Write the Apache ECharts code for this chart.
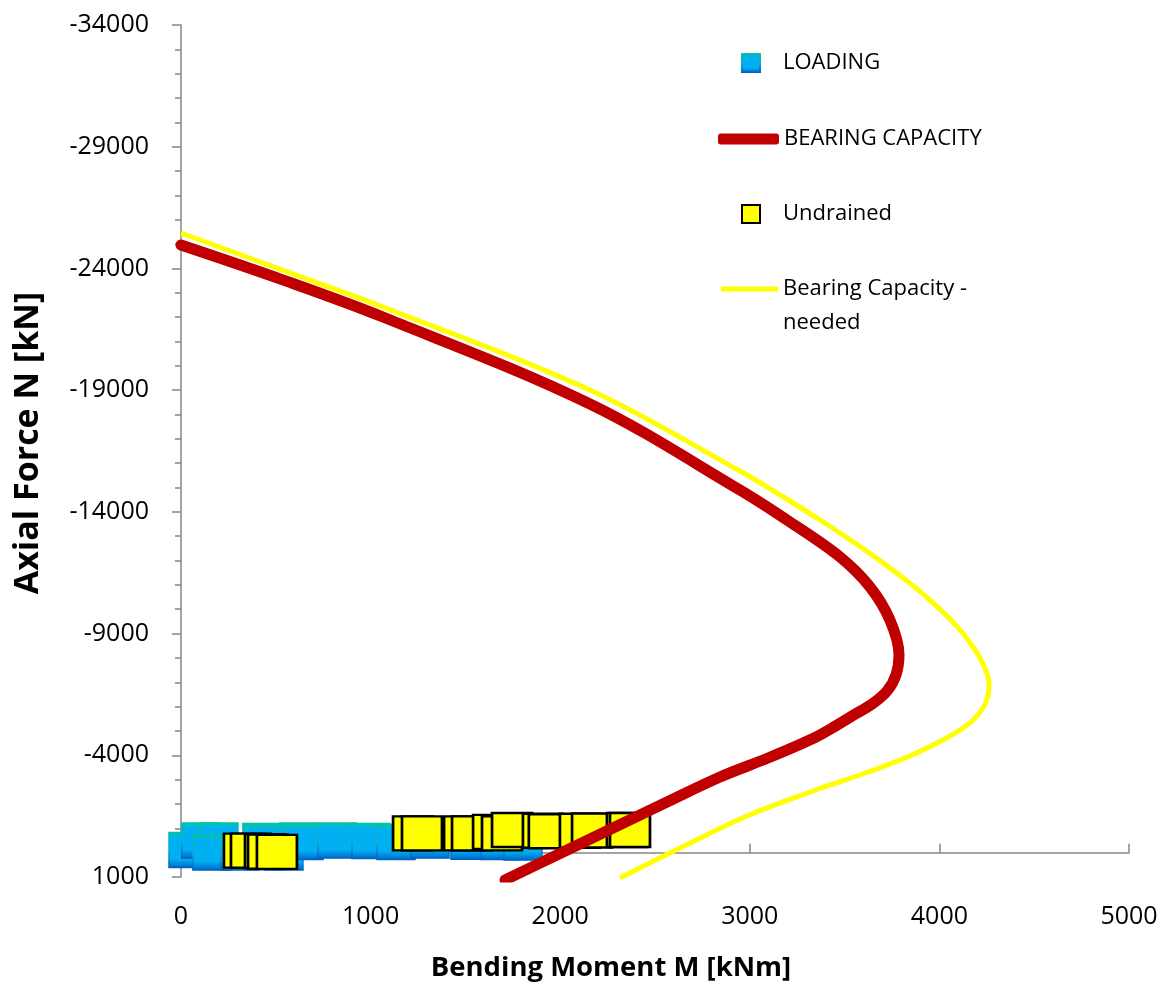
<!DOCTYPE html>
<html>
<head>
<meta charset="utf-8">
<script src="https://cdn.jsdelivr.net/npm/echarts@6/dist/echarts.min.js"></script>
<style>
  html, body { margin: 0; padding: 0; background: #ffffff; }
  #chart { width: 1168px; height: 985px; }
</style>
</head>
<body>
<div id="chart"></div>
<script>
// Interaction diagram: bending moment M [kNm] vs axial force N [kN]

// Axis ranges / ticks
const momentMin = 0, momentMax = 5000, momentStep = 1000;
const forceMin = -34000, forceMax = 1000, forceStep = 5000;

// Load cases (M, N)
const loading = [
  [37, -110], [104, -500], [200, -500], [163, -10], [311, -10],
  [427, -480], [448, -440], [443, -20], [543, -10], [622, -500],
  [649, -440], [823, -500], [1002, -480], [1134, -440], [1313, -500],
  [1524, -450], [1682, -440], [1804, -420]
];

// Bearing capacity envelope (M, N)
const bearingCapacity = [
  [0, -24962], [533, -23540], [1065, -22004], [2157, -18431], [2948, -14898],
  [3212, -13583], [3476, -12145], [3634, -10913], [3739, -9557], [3787, -8120],
  [3771, -7298], [3724, -6641], [3645, -6107], [3539, -5614], [3434, -5121],
  [3328, -4669], [3096, -3888], [2843, -3108], [2558, -2060], [2273, -992],
  [1999, 35], [1709, 1123]
];

// Undrained load cases (M, N)
const undrained = [
  [332, -80], [369, -80], [443, -60], [459, -40], [506, -30],
  [1224, -790], [1271, -790], [1493, -790], [1535, -790], [1646, -850],
  [1693, -790], [1746, -930], [1909, -900], [1940, -880], [2104, -900],
  [2168, -910], [2352, -930], [2368, -930]
];

// Required bearing capacity envelope (M, N)
const bearingCapacityNeeded = [
  [0, -25455], [533, -23935], [1065, -22415], [2157, -19006], [2948, -15678],
  [3212, -14446], [3476, -13131], [3687, -11997], [3845, -11061], [3987, -10120],
  [4093, -9298], [4161, -8629], [4225, -7840], [4262, -6928], [4256, -6435],
  [4230, -5942], [4172, -5408], [4082, -4915], [3966, -4422], [3819, -3888],
  [3581, -3190], [3333, -2533], [2985, -1506], [2632, -191], [2315, 1041]
];

const FONT = '"Open Sans", "Liberation Sans", sans-serif';
const AXIS_GREY = '#878787';

const loadingFill = new echarts.graphic.LinearGradient(0, 0, 0, 1, [
  { offset: 0, color: '#00C8A0' },
  { offset: 0.15, color: '#00B0F0' },
  { offset: 0.75, color: '#00B0F0' },
  { offset: 1, color: '#0064C8' }
]);
const loadingEdge = new echarts.graphic.LinearGradient(0, 0, 0, 1, [
  { offset: 0, color: '#00C49A' },
  { offset: 0.5, color: '#18A6E0' },
  { offset: 1, color: '#005FBF' }
]);

const chart = echarts.init(document.getElementById('chart'), null, { renderer: 'canvas' });

const legendText = { fontFamily: FONT, fontSize: 22, color: '#000' };
const plainNumber = (v) => String(v);

chart.setOption({
  backgroundColor: '#ffffff',
  animation: false,
  grid: { left: 181, right: 39, top: 25, bottom: 108, containLabel: false },
  xAxis: {
    type: 'value',
    min: momentMin, max: momentMax, interval: momentStep,
    axisLine: { show: true, onZero: true, lineStyle: { color: AXIS_GREY, width: 1.5 } },
    axisTick: { show: true, inside: true, length: 9, lineStyle: { color: AXIS_GREY, width: 1.5 } },
    axisLabel: { margin: 27, fontFamily: FONT, fontSize: 25, color: '#000', formatter: plainNumber },
    splitLine: { show: false }
  },
  yAxis: {
    type: 'value',
    inverse: true,
    min: forceMin, max: forceMax, interval: forceStep,
    axisLine: { show: true, onZero: true, lineStyle: { color: AXIS_GREY, width: 1.5 } },
    axisTick: { show: true, length: 9, lineStyle: { color: AXIS_GREY, width: 1.5 } },
    minorTick: { show: true, splitNumber: 5, length: 6, lineStyle: { color: AXIS_GREY, width: 1.5 } },
    axisLabel: { margin: 32, fontFamily: FONT, fontSize: 25, color: '#000', formatter: plainNumber },
    splitLine: { show: false },
    minorSplitLine: { show: false }
  },
  legend: [
    {
      data: [{ name: 'LOADING', icon: 'rect' }],
      left: 741, top: 52, padding: 0, itemWidth: 18, itemHeight: 18,
      selectedMode: false,
      textStyle: Object.assign({ padding: [0, 0, 0, 18] }, legendText)
    },
    {
      data: [{ name: 'BEARING CAPACITY', icon: 'roundRect' }],
      left: 718, top: 128, padding: 0, itemWidth: 61, itemHeight: 11,
      selectedMode: false,
      itemStyle: { borderWidth: 0 },
      textStyle: legendText
    },
    {
      data: [{ name: 'Undrained', icon: 'rect' }],
      left: 741, top: 203, padding: 0, itemWidth: 18, itemHeight: 18,
      selectedMode: false,
      textStyle: Object.assign({ padding: [0, 0, 0, 18] }, legendText)
    },
    {
      // blank first line keeps the icon level with "Bearing Capacity -"
      data: [{ name: 'Bearing Capacity - needed', icon: 'rect' }],
      left: 721, top: 238, padding: 0, itemWidth: 57, itemHeight: 5,
      selectedMode: false,
      itemStyle: { borderWidth: 0 },
      formatter: () => ' \nBearing Capacity -\nneeded',
      textStyle: Object.assign({ lineHeight: 34 }, legendText)
    }
  ],
  graphic: [
    {
      type: 'text', x: 28, y: 443, rotation: Math.PI / 2,
      style: {
        text: 'Axial Force N [kN]', font: 'bold 34px ' + FONT,
        fill: '#000', align: 'center', verticalAlign: 'middle'
      }
    },
    {
      type: 'text', x: 611, y: 968,
      style: {
        text: 'Bending Moment M [kNm]', font: 'bold 27.5px ' + FONT,
        fill: '#000', align: 'center', verticalAlign: 'middle'
      }
    }
  ],
  series: [
    {
      name: 'LOADING',
      type: 'scatter',
      data: loading,
      symbol: 'rect',
      symbolSize: [38, 35],
      itemStyle: { color: loadingFill, borderColor: loadingEdge, borderWidth: 1.5, opacity: 1 },
      emphasis: { disabled: true }
    },
    {
      name: 'BEARING CAPACITY',
      type: 'line',
      data: bearingCapacity,
      color: '#C00000',
      smooth: 0.35,
      showSymbol: false,
      clip: true,
      lineStyle: { color: '#C00000', width: 11, cap: 'round', join: 'round' },
      itemStyle: { color: '#C00000' },
      emphasis: { disabled: true }
    },
    {
      name: 'Undrained',
      type: 'scatter',
      data: undrained,
      symbol: 'rect',
      symbolSize: [40, 34],
      itemStyle: { color: '#FFFF00', borderColor: '#000000', borderWidth: 2.5, opacity: 1 },
      emphasis: { disabled: true }
    },
    {
      name: 'Bearing Capacity - needed',
      type: 'line',
      data: bearingCapacityNeeded,
      color: '#FFFF00',
      smooth: 0.35,
      showSymbol: false,
      clip: true,
      lineStyle: { color: '#FFFF00', width: 5, join: 'round' },
      itemStyle: { color: '#FFFF00' },
      emphasis: { disabled: true }
    }
  ]
});
</script>
</body>
</html>
